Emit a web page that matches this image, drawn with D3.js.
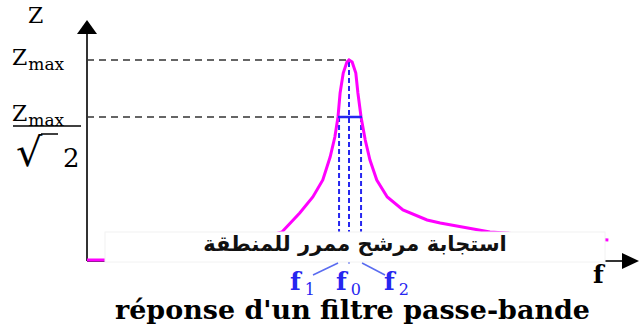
<!DOCTYPE html>
<html>
<head>
<meta charset="utf-8">
<script src="https://cdn.jsdelivr.net/npm/d3@7"></script>
<style>
  html, body { margin: 0; padding: 0; background: #fff; }
  svg { display: block; }
</style>
</head>
<body>
<div id="chart"></div>
<script>
// response curve (f in arbitrary units, Z relative to Zmax)
const freq = [0, 0.34, 1.5, 2.5, 3.2, 3.72, 4.06, 4.31, 4.50, 4.64, 4.73, 4.79, 4.83, 4.89, 4.96, 5.0,
  5.06, 5.13, 5.17, 5.23, 5.31, 5.40, 5.53, 5.73, 6.03, 6.49, 6.74, 7.69, 8.8, 9.95];
const zVal = [0, 0, 0.03, 0.07, 0.10, 0.14, 0.235, 0.315, 0.40, 0.515, 0.615, 0.715, 0.835, 0.935, 0.99, 1.0,
  0.99, 0.935, 0.835, 0.715, 0.60, 0.50, 0.40, 0.315, 0.25, 0.20, 0.185, 0.14, 0.12, 0.10];

const markFreqs = [4.81, 5.0, 5.23];
const markSubs = ['1', '0', '2'];
const zMax = 1.0;
const zHalf = 0.715;

const title = "réponse d'un filtre passe-bande";
const arabicTitle = 'استجابة مرشح ممرر للمنطقة';

const width = 639, height = 333;
const serif = 'DejaVu Serif';
const svg = d3.select('#chart').append('svg')
  .attr('width', width).attr('height', height);

const x = d3.scaleLinear().domain([0, 10]).range([87, 611]);
const y = d3.scaleLinear().domain([0, 1]).range([260, 60]);

const axisColor = '#333';
const blue = '#2626f0';

// axes
svg.append('line')
  .attr('x1', x(0)).attr('x2', x(0))
  .attr('y1', y(0) + 1).attr('y2', 34)
  .attr('stroke', axisColor).attr('stroke-width', 2);
svg.append('path')
  .attr('d', `M${x(0)},20 L${x(0) - 10},34 L${x(0) + 10},34 Z`)
  .attr('fill', '#000');

svg.append('line')
  .attr('x1', x(0)).attr('x2', 623)
  .attr('y1', 261).attr('y2', 261)
  .attr('stroke', axisColor).attr('stroke-width', 2);
svg.append('path')
  .attr('d', `M639,261 L622,253 L622,269 Z`)
  .attr('fill', '#000');

// reference levels
svg.append('line')
  .attr('x1', x(0)).attr('x2', x(markFreqs[1]))
  .attr('y1', y(zMax)).attr('y2', y(zMax))
  .attr('stroke', axisColor).attr('stroke-width', 1.5)
  .attr('stroke-dasharray', '7,5');
svg.append('line')
  .attr('x1', x(0)).attr('x2', x(markFreqs[0]))
  .attr('y1', y(zHalf)).attr('y2', y(zHalf))
  .attr('stroke', axisColor).attr('stroke-width', 1.5)
  .attr('stroke-dasharray', '7,5');

// blue markers
svg.selectAll('.vmark')
  .data(markFreqs)
  .enter()
  .append('line')
  .attr('class', 'vmark')
  .attr('x1', d => x(d)).attr('x2', d => x(d))
  .attr('y1', (d, i) => i === 1 ? y(zMax) + 2 : y(zHalf))
  .attr('y2', 234)
  .attr('stroke', blue).attr('stroke-width', 2)
  .attr('stroke-dasharray', '5,3');

// curve
const points = freq.map((f, i) => [f, zVal[i]]);
const line = d3.line()
  .x(d => x(d[0]))
  .y(d => y(d[1]));
svg.append('path')
  .attr('d', line(points))
  .attr('fill', 'none')
  .attr('stroke', '#ff00ff')
  .attr('stroke-width', 3);

svg.append('line')
  .attr('x1', x(markFreqs[0]) - 1).attr('x2', x(markFreqs[2]) + 1)
  .attr('y1', y(zHalf)).attr('y2', y(zHalf))
  .attr('stroke', blue).attr('stroke-width', 2.5);

// white caption box over the axis
svg.append('rect')
  .attr('x', 105).attr('y', 232)
  .attr('width', 500).attr('height', 30)
  .attr('fill', '#fff')
  .attr('stroke', '#f2f2f2');

svg.append('text')
  .attr('x', 355).attr('y', 251)
  .attr('text-anchor', 'middle')
  .attr('direction', 'rtl')
  .attr('font-family', 'DejaVu Sans')
  .attr('font-size', 21)
  .attr('font-weight', 'bold')
  .attr('fill', '#111')
  .text(arabicTitle);

// pointer lines from labels
svg.append('line')
  .attr('x1', 313).attr('y1', 275).attr('x2', x(markFreqs[0]) - 1).attr('y2', 263)
  .attr('stroke', '#5a6cf0').attr('stroke-width', 1.5);
svg.append('line')
  .attr('x1', 385).attr('y1', 275).attr('x2', x(markFreqs[2]) + 1).attr('y2', 263)
  .attr('stroke', '#5a6cf0').attr('stroke-width', 1.5);
svg.append('circle')
  .attr('cx', x(markFreqs[1])).attr('cy', 263).attr('r', 1)
  .attr('fill', '#8a96f0');

// label with subscript, placed from the measured width of the main glyph
function subLabel(x0, yBase, main, sub, size, subSize, color, bold, gap) {
  const m = svg.append('text')
    .attr('x', x0).attr('y', yBase)
    .attr('font-family', serif)
    .attr('font-size', size)
    .attr('font-weight', bold ? 'bold' : 'normal')
    .attr('fill', color)
    .text(main);
  const w = m.node().getComputedTextLength();
  svg.append('text')
    .attr('x', x0 + w + gap).attr('y', yBase + subSize * 0.3)
    .attr('font-family', serif)
    .attr('font-size', subSize)
    .attr('fill', color)
    .text(sub);
}

// f labels
markFreqs.forEach((d, i) => {
  subLabel(x(d) + (i - 1) * 36 - 13, 290, 'f', markSubs[i], 25, 16, blue, true, 4);
});

// axis names
svg.append('text')
  .attr('x', 28).attr('y', 23)
  .attr('font-family', serif)
  .attr('font-size', 22)
  .text('Z');
svg.append('text')
  .attr('x', 593).attr('y', 283)
  .attr('font-family', serif)
  .attr('font-size', 25).attr('font-weight', 'bold')
  .text('f');

// Zmax labels
subLabel(12, y(zMax) + 5, 'Z', 'max', 22, 17, '#000', false, 1);
subLabel(12, y(zHalf) + 4, 'Z', 'max', 22, 17, '#000', false, 1);

svg.append('line')
  .attr('x1', 13).attr('x2', 81)
  .attr('y1', 126).attr('y2', 126)
  .attr('stroke', '#000').attr('stroke-width', 1.5);
svg.append('text')
  .attr('transform', 'translate(16,166) scale(1.15,1.1)')
  .attr('font-family', serif)
  .attr('font-size', 36)
  .text('√');
svg.append('line')
  .attr('x1', 41).attr('x2', 58)
  .attr('y1', 134).attr('y2', 134)
  .attr('stroke', '#000').attr('stroke-width', 1.5);
svg.append('text')
  .attr('x', 63).attr('y', 167)
  .attr('font-family', serif)
  .attr('font-size', 26)
  .text('2');

// caption
svg.append('text')
  .attr('x', 115).attr('y', 319)
  .attr('font-family', serif)
  .attr('font-size', 26).attr('font-weight', 'bold')
  .attr('textLength', 475)
  .attr('lengthAdjust', 'spacingAndGlyphs')
  .text(title);
</script>
</body>
</html>
